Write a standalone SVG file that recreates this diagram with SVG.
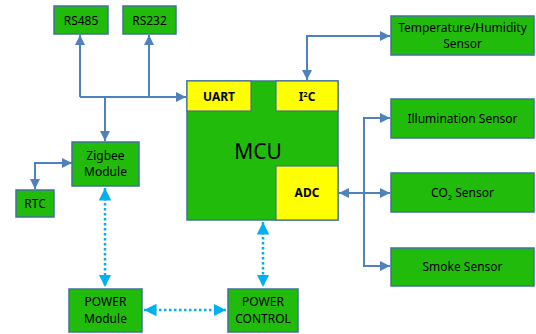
<svg xmlns="http://www.w3.org/2000/svg" width="536" height="334" viewBox="0 0 536 334">
<style>
.box{fill:#21BB0C;stroke:#41719C;stroke-width:1.5}
.yel{fill:#FFFF00;stroke:#41719C;stroke-width:1.2}
text{font-family:"Noto Sans","Open Sans","DejaVu Sans",sans-serif;font-size:12px;fill:#000;text-anchor:middle}
.b{font-weight:bold}
.ln{fill:none;stroke:#4F81BD;stroke-width:2}
.dt{fill:none;stroke:#00B0F0;stroke-width:2.5;stroke-dasharray:2.5 2.5}
</style>
<defs>
<marker id="a" viewBox="0 0 10 10" refX="10" refY="5" markerWidth="5" markerHeight="5" orient="auto-start-reverse" markerUnits="strokeWidth"><path d="M0,0L10,5L0,10z" fill="#4F81BD"/></marker>
<marker id="c" viewBox="0 0 10 10" refX="10" refY="5" markerWidth="5" markerHeight="5" orient="auto-start-reverse" markerUnits="strokeWidth"><path d="M0,0L10,5L0,10z" fill="#00B0F0"/></marker>
</defs>
<g id="connectors">
<path class="ln" d="M80,97H186" marker-end="url(#a)"/>
<path class="ln" d="M80,97V35" marker-end="url(#a)"/>
<path class="ln" d="M149,97V35" marker-end="url(#a)"/>
<path class="ln" d="M105,97V141" marker-end="url(#a)"/>
<path class="ln" d="M72,163H35V189" marker-start="url(#a)" marker-end="url(#a)"/>
<path class="ln" d="M390,36H307V80" marker-start="url(#a)" marker-end="url(#a)"/>
<path class="ln" d="M364,193H339" marker-end="url(#a)"/>
<path class="ln" d="M390,118H364V266H390" marker-start="url(#a)" marker-end="url(#a)"/>
<path class="ln" d="M364,193H390" marker-end="url(#a)"/>
<path class="dt" d="M105,188V287" marker-start="url(#c)" marker-end="url(#c)"/>
<path class="dt" d="M144,310H226" marker-start="url(#c)" marker-end="url(#c)"/>
<path class="dt" d="M263,222V287" marker-start="url(#c)" marker-end="url(#c)"/>
</g>
<g id="rs485"><rect class="box" x="54" y="6" width="54" height="28"/><text x="81" y="24.5">RS485</text></g>
<g id="rs232"><rect class="box" x="123" y="6" width="53" height="28"/><text x="149.5" y="24.5">RS232</text></g>
<g id="mcu">
<rect class="box" x="187" y="81" width="151" height="139"/>
<rect class="yel" x="187" y="81" width="64" height="30"/>
<rect class="yel" x="276" y="81" width="62" height="30"/>
<rect class="yel" x="276" y="166" width="62" height="54"/>
<text x="219" y="101" class="b">UART</text>
<text x="307" y="101" class="b">I<tspan font-size="7.5" dy="-4">2</tspan><tspan dy="4">C</tspan></text>
<text x="307" y="197" class="b">ADC</text>
<text x="258" y="159" style="font-size:21px">MCU</text>
</g>
<g id="temp"><rect class="box" x="391" y="16" width="143" height="39"/><text x="462.5" y="32">Temperature/Humidity</text><text x="462.5" y="48">Sensor</text></g>
<g id="illum"><rect class="box" x="391" y="99" width="143" height="39"/><text x="462.5" y="123">Illumination Sensor</text></g>
<g id="co2"><rect class="box" x="391" y="173" width="143" height="39"/><text x="462.5" y="197">CO<tspan font-size="7.5" dy="3">2</tspan><tspan dy="-3"> Sensor</tspan></text></g>
<g id="smoke"><rect class="box" x="391" y="248" width="143" height="38"/><text x="462.5" y="271">Smoke Sensor</text></g>
<g id="zigbee"><rect class="box" x="72" y="142" width="67" height="44"/><text x="105.5" y="160">Zigbee</text><text x="105.5" y="176">Module</text></g>
<g id="rtc"><rect class="box" x="16" y="190" width="38" height="27"/><text x="35" y="208">RTC</text></g>
<g id="pmod"><rect class="box" x="69" y="289" width="73" height="43"/><text x="105.5" y="306">POWER</text><text x="105.5" y="323">Module</text></g>
<g id="pctl"><rect class="box" x="228" y="289" width="70" height="43"/><text x="263" y="306">POWER</text><text x="263" y="323">CONTROL</text></g>
</svg>
